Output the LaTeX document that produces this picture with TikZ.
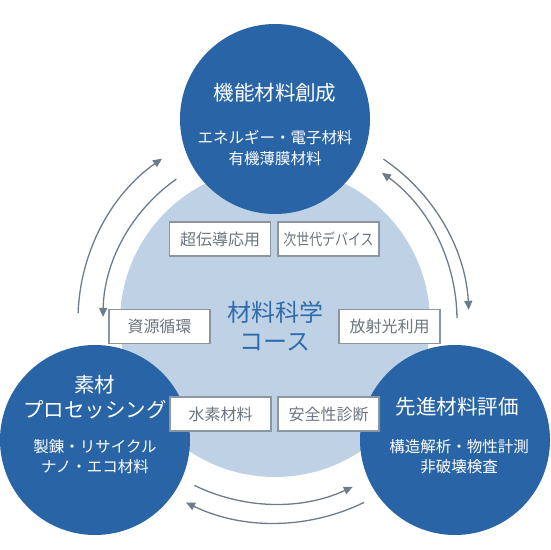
\documentclass[tikz,border=0pt]{standalone}
\usepackage{fontspec}
\setmainfont{Noto Sans CJK JP}
\usepackage{tikz}
\usetikzlibrary{arrows.meta,positioning,calc}
\definecolor{coreblue}{RGB}{41,101,166}
\definecolor{corelight}{RGB}{191,209,229}
\definecolor{coretext}{RGB}{47,108,175}
\definecolor{tagtext}{RGB}{108,117,128}
\definecolor{tagline}{RGB}{140,150,161}
\definecolor{cyclegray}{RGB}{110,123,136}

\tikzset{
  field/.style={circle, fill=coreblue, minimum size=190pt, inner sep=0pt},
  fieldhead/.style={text=white, align=center, font=\fontsize{20.5}{25}\selectfont},
  fieldsub/.style={text=white, align=center, font=\fontsize{15.5}{20.5}\selectfont},
  tag/.style={draw=tagline, line width=1.1pt, fill=white, text=tagtext, minimum width=101pt, minimum height=34pt, inner sep=0pt, font=\fontsize{16}{18}\selectfont},
  cycle/.style={draw=cyclegray, line width=1.3pt, -{Triangle[length=9pt,width=8pt]}}
}

\begin{document}
\begin{tikzpicture}[x=1pt,y=1pt]
\useasboundingbox (0,0) rectangle (550,550);

\coordinate (hub) at (275,230);
\node[circle, fill=corelight, minimum size=310pt, inner sep=0pt] (core) at (275,228) {};

\node[field] (func) at (275,431) {};
\node[field] (proc) at (95,110) {};
\node[field] (eval) at (455,110) {};

\coordinate (lo-a) at ($(hub)+(178:197pt)$);
\coordinate (li-a) at ($(hub)+(125:172pt)$);
\coordinate (ro-a) at ($(hub)+(56:194pt)$);
\coordinate (ri-a) at ($(hub)+(0.6:182pt)$);
\coordinate (bu-a) at ($(hub)+(244:184pt)$);
\coordinate (bl-a) at ($(hub)+(296:203pt)$);
\draw[cycle] (lo-a) arc[start angle=178, end angle=125, radius=197pt];
\draw[cycle] (li-a) arc[start angle=125, end angle=179, radius=172pt];
\draw[cycle] (ro-a) arc[start angle=56, end angle=3, radius=194pt];
\draw[cycle] (ri-a) arc[start angle=0.6, end angle=54, radius=182pt];
\draw[cycle] (bu-a) arc[start angle=244, end angle=295, radius=184pt];
\draw[cycle] (bl-a) arc[start angle=296, end angle=244, radius=203pt];

\node[text=coretext, align=center, font=\fontsize{24}{29}\selectfont] (course) at (275,223.5) {材料科学\\コース};

\node[fieldhead] (func-h) at ($(func)+(0,26)$) {機能材料創成};
\node[fieldsub] (func-s) at ($(func)+(0,-29)$) {エネルギー・電子材料\\有機薄膜材料};
\node[fieldhead] (proc-h) at ($(proc)+(0,42.5)$) {素材\\プロセッシング};
\node[fieldsub] (proc-s) at ($(proc)+(0,-16.5)$) {製錬・リサイクル\\ナノ・エコ材料};
\node[fieldhead] (eval-h) at ($(eval)+(2,33)$) {先進材料評価};
\node[fieldsub] (eval-s) at ($(eval)+(4,-16.5)$) {構造解析・物性計測\\非破壊検査};

\node[tag] (supra) at (220,311) {超伝導応用};
\node[tag] (device) at (328.5,311) {\scalebox{0.81}[1]{次世代デバイス}};
\node[tag] (recycle) at (159.5,223.5) {資源循環};
\node[tag] (synch) at (389.5,223.5) {放射光利用};
\node[tag] (hydro) at (220.5,136) {水素材料};
\node[tag] (safety) at (328.5,136) {安全性診断};
\end{tikzpicture}
\end{document}
